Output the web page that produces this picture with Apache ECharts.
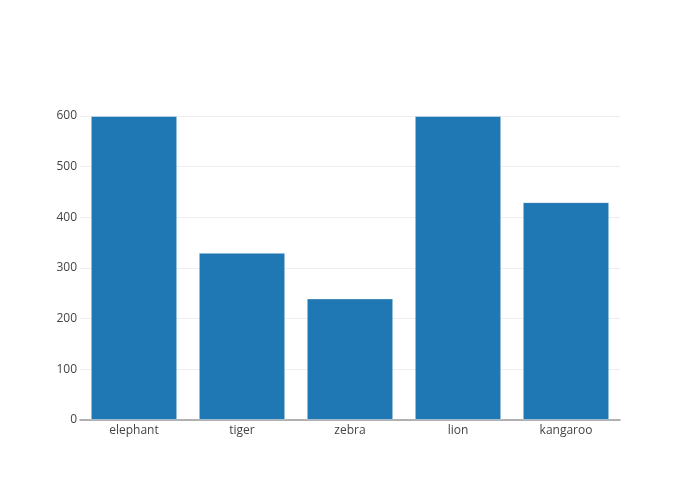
<!DOCTYPE html>
<html>
<head>
<meta charset="utf-8">
<script src="https://cdn.jsdelivr.net/npm/echarts@6/dist/echarts.min.js"></script>
<style>
html, body { margin: 0; padding: 0; background: #fff; }
#chart { width: 700px; height: 500px; }
</style>
</head>
<body>
<div id="chart"></div>
<script>
// values
var animals = ['elephant', 'tiger', 'zebra', 'lion', 'kangaroo'];
var counts = [600, 330, 240, 600, 430];

var chart = echarts.init(document.getElementById('chart'));
var option = {
    animation: false,
    textStyle: { fontFamily: 'Open Sans' },
    grid: { left: 80, right: 80, top: 116, bottom: 80 },
    xAxis: {
        type: 'category',
        data: animals,
        axisLine: { show: true, lineStyle: { color: '#999', width: 1.5 } },
        axisTick: { show: false },
        axisLabel: { color: '#444', fontSize: 12, margin: 5 }
    },
    yAxis: {
        type: 'value',
        min: 0,
        max: 600,
        interval: 100,
        axisLine: { show: false },
        axisTick: { show: false },
        axisLabel: { color: '#444', fontSize: 12, margin: 3 },
        splitLine: { lineStyle: { color: '#eee', width: 1 } }
    },
    series: [
        {
            type: 'bar',
            data: counts,
            barCategoryGap: '20%',
            itemStyle: {
                color: '#1f77b4',
                borderColor: 'rgba(255,255,255,0.4)',
                borderWidth: 1
            }
        }
    ]
};
chart.setOption(option);
</script>
</body>
</html>
